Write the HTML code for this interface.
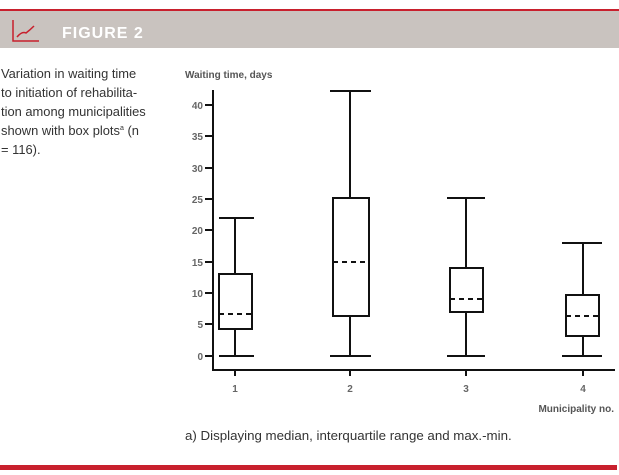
<!DOCTYPE html>
<html><head><style>
body{margin:0;width:619px;height:475px;background:#fff;overflow:hidden;font-family:"Liberation Sans",sans-serif;}
</style></head><body>
<svg width="619" height="475" xmlns="http://www.w3.org/2000/svg" style="position:absolute;left:0;top:0">
<rect x="0" y="9" width="619" height="2" fill="#c8202d"/>
<rect x="0" y="11" width="619" height="37" fill="#c9c3bf"/>
<path d="M13 20 V41 H39" stroke="#c8202d" stroke-width="1.5" fill="none"/>
<path d="M17 37 Q22 31 26 33 Q30 30 34 26" stroke="#c8202d" stroke-width="1.5" fill="none"/>
<text x="62" y="38" font-size="16" font-weight="bold" fill="#fff" letter-spacing="1">FIGURE 2</text>
<g font-size="12.9" fill="#333">
<text x="1" y="78">Variation in waiting time</text>
<text x="1" y="97">to initiation of rehabilita-</text>
<text x="1" y="116">tion among municipalities</text>
<text x="1" y="135">shown with box plots<tspan font-size="7" dy="-5">a</tspan><tspan dy="5"> (n</tspan></text>
<text x="1" y="154">= 116).</text>
</g>
<text x="185" y="78" font-size="10" font-weight="bold" fill="#555">Waiting time, days</text>
<g stroke="#111" stroke-width="2" fill="none">
<path d="M213 90 V370 H615"/>
<path d="M205 105H213M205 136H213M205 168H213M205 199H213M205 230H213M205 262H213M205 293H213M205 324H213M205 356H213"/>
<path d="M235 370V376M350 370V376M466 370V376M583 370V376"/>
</g>
<g font-size="10" fill="#666" text-anchor="end" font-weight="bold">
<text x="203" y="109">40</text><text x="203" y="140">35</text><text x="203" y="172">30</text><text x="203" y="203">25</text><text x="203" y="234">20</text><text x="203" y="266">15</text><text x="203" y="297">10</text><text x="203" y="328">5</text><text x="203" y="360">0</text>
</g>
<g font-size="10" fill="#666" text-anchor="middle" font-weight="bold">
<text x="235" y="392">1</text><text x="350" y="392">2</text><text x="466" y="392">3</text><text x="583" y="392">4</text>
</g>
<g stroke="#111" stroke-width="2" fill="none">
<path d="M219 218H254M235 218V274M235 329V356M219 356H254"/><rect x="219" y="274" width="33" height="55"/>
<path d="M219 314H252" stroke-dasharray="5,4"/>
<path d="M330 91H371M350 91V198M350 316V356M330 356H371"/><rect x="333" y="198" width="36" height="118"/>
<path d="M333 262H369" stroke-dasharray="5,4"/>
<path d="M447 198H485M466 198V268M466 312V356M447 356H485"/><rect x="450" y="268" width="33" height="44"/>
<path d="M450 299H483" stroke-dasharray="5,4"/>
<path d="M562 243H602M583 243V295M583 336V356M562 356H602"/><rect x="566" y="295" width="33" height="41"/>
<path d="M566 316H599" stroke-dasharray="5,4"/>
</g>
<text x="614" y="412" font-size="10" font-weight="bold" fill="#555" text-anchor="end">Municipality no.</text>
<text x="185" y="440" font-size="13.3" fill="#333">a) Displaying median, interquartile range and max.-min.</text>
<rect x="0" y="465" width="617" height="5" fill="#c8202d"/>
</svg>
</body></html>
